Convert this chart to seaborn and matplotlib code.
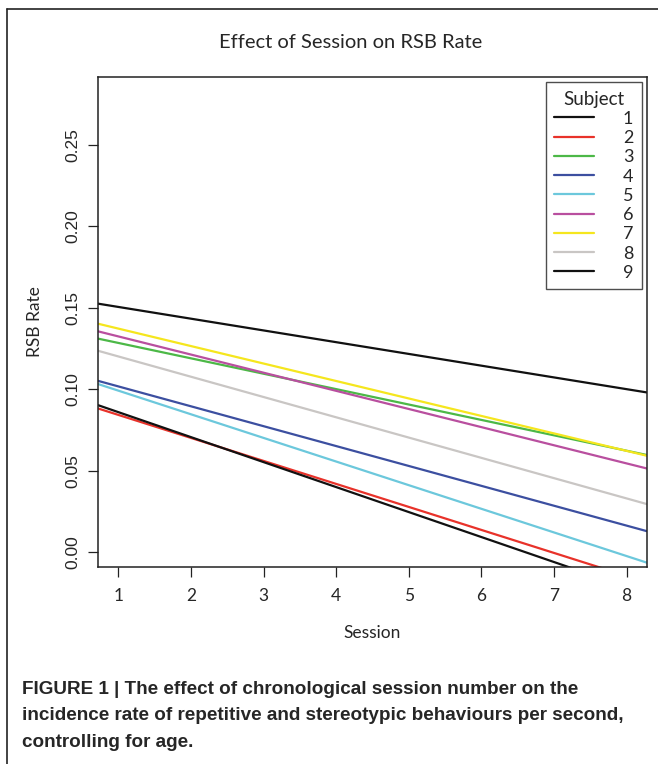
import numpy as np
import pandas as pd
import matplotlib
matplotlib.use("Agg")
import matplotlib.pyplot as plt
from matplotlib.lines import Line2D
import seaborn as sns

# fitted RSB rate per subject, read at session 1 and session 8
subjects = ["1", "2", "3", "4", "5", "6", "7", "8", "9"]
rate_s1 = [0.1505, 0.0842, 0.1284, 0.1017, 0.0991, 0.1324, 0.1372, 0.1201, 0.0859]
rate_s8 = [0.1000, -0.0147, 0.0622, 0.0162, -0.0025, 0.0544, 0.0621, 0.0329, -0.0215]
colors = ["#111111", "#e8322a", "#4cb847", "#3c4fa0", "#6cc8dc",
          "#b94f9f", "#f5e61e", "#c9c6c4", "#111111"]
x_ticks = [1, 2, 3, 4, 5, 6, 7, 8]
y_ticks = [0.00, 0.05, 0.10, 0.15, 0.20, 0.25]

xlim = (0.72, 8.28)
ylim = (-0.0092, 0.2917)

# regression lines span the whole plotting region (like abline)
rows = []
for s, a, b in zip(subjects, rate_s1, rate_s8):
    slope = (b - a) / 7.0
    for x in xlim:
        rows.append({"Session": x, "RSB Rate": a + slope * (x - 1), "Subject": s})
df = pd.DataFrame(rows)

sns.set_style("white")
plt.rcParams["font.family"] = ["Lato", "DejaVu Sans"]

fig = plt.figure(figsize=(6.58, 7.64), dpi=100)
ax = fig.add_axes([98 / 658, 1 - 567 / 764, 549 / 658, 490 / 764])

sns.lineplot(data=df, x="Session", y="RSB Rate", hue="Subject",
             palette=dict(zip(subjects, colors)), hue_order=subjects,
             linewidth=1.6, legend=False, ax=ax)

ax.set_xlim(*xlim)
ax.set_ylim(*ylim)
ax.set_xticks(x_ticks)
ax.set_yticks(y_ticks)
ax.set_yticklabels([f"{v:.2f}" for v in y_ticks], rotation=90, va="center",
                   family=["Liberation Sans", "DejaVu Sans"])
ax.tick_params(axis="both", direction="out", length=7, width=0.9,
               labelsize=12.5, color="#222222", pad=8, left=True, bottom=True)
ax.tick_params(axis="y", pad=6)
for sp in ax.spines.values():
    sp.set_color("#222222")
    sp.set_linewidth(1.1)
ax.set_xlabel("Session", fontsize=12.5, labelpad=15)
ax.set_ylabel("RSB Rate", fontsize=12.5, labelpad=16)

handles = [Line2D([0], [0], color=c, lw=1.6) for c in colors]
leg = ax.legend(handles, subjects, title="Subject", loc="upper right",
                fontsize=13, title_fontsize=13.5, frameon=True, fancybox=False,
                edgecolor="#222222", handlelength=2.2, handletextpad=1.6,
                labelspacing=0.18, borderaxespad=0.3, borderpad=0.45)
leg.get_frame().set_linewidth(1.0)
for t in leg.get_texts():
    t.set_ha("right")

fig.text(351 / 658, 1 - 42 / 764, "Effect of Session on RSB Rate",
         ha="center", va="center", fontsize=14.5)

# outer figure frame (top and left edges)
fig.add_artist(Line2D([7 / 658, 1], [1 - 9 / 764, 1 - 9 / 764],
                      transform=fig.transFigure, color="#222222", lw=1.2))
fig.add_artist(Line2D([7 / 658, 7 / 658], [0, 1 - 9 / 764],
                      transform=fig.transFigure, color="#222222", lw=1.2))

caption = ("FIGURE 1 | The effect of chronological session number on the\n"
           "incidence rate of repetitive and stereotypic behaviours per second,\n"
           "controlling for age.")
fig.text(22 / 658, 1 - 681 / 764, caption, ha="left", va="top",
         fontsize=13.6, fontweight="bold", linespacing=1.72,
         family=["Liberation Sans", "DejaVu Sans"])

fig.savefig("out.png", dpi=100, facecolor="white")
